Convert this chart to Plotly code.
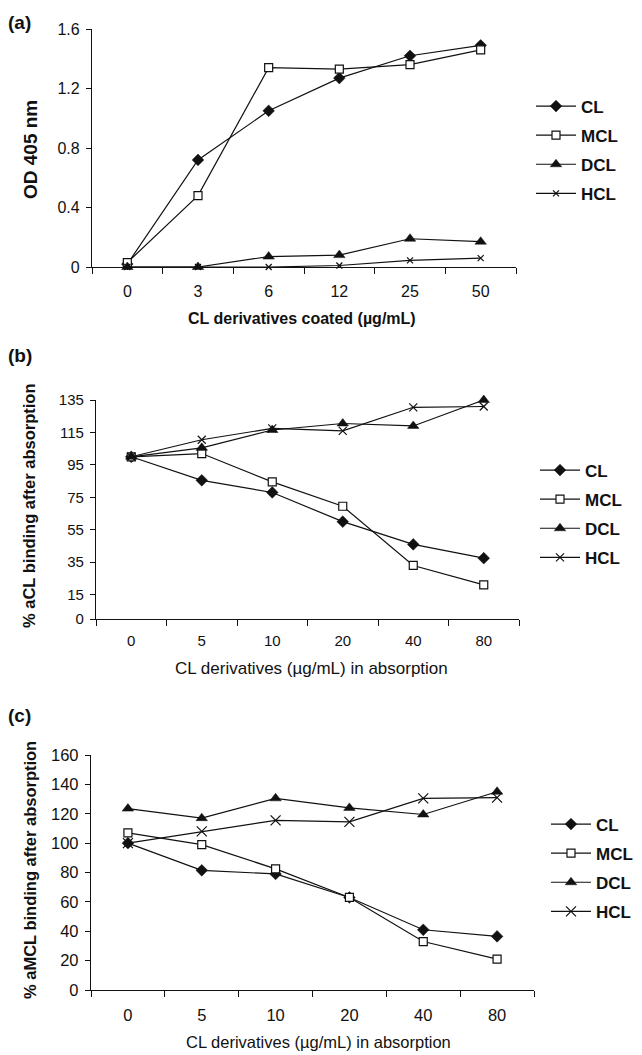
import plotly.graph_objects as go

# ---------------- data ----------------
series_names = ["CL", "MCL", "DCL", "HCL"]

a_categories = ["0", "3", "6", "12", "25", "50"]
a_CL = [0.02, 0.72, 1.05, 1.27, 1.42, 1.49]
a_MCL = [0.03, 0.48, 1.34, 1.33, 1.36, 1.46]
a_DCL = [0.0, 0.0, 0.07, 0.08, 0.19, 0.17]
a_HCL = [0.0, 0.0, 0.0, 0.01, 0.045, 0.06]
a_yticks = [0, 0.4, 0.8, 1.2, 1.6]
a_yticklabels = ["0", "0.4", "0.8", "1.2", "1.6"]

b_categories = ["0", "5", "10", "20", "40", "80"]
b_CL = [100, 85.5, 78, 60, 46, 37.5]
b_MCL = [100, 102, 84.5, 69.5, 33, 21]
b_DCL = [100, 105.5, 116.5, 120.5, 119, 135]
b_HCL = [100, 110.5, 117.5, 116, 130.5, 131]
b_yticks = [0, 15, 35, 55, 75, 95, 115, 135]

c_categories = ["0", "5", "10", "20", "40", "80"]
c_CL = [100, 81.5, 79, 63, 41, 36.5]
c_MCL = [107, 99, 82.5, 63, 33, 21]
c_DCL = [123.5, 117, 130.5, 124, 119.5, 135]
c_HCL = [100, 108, 115.5, 114.5, 130.5, 131]
c_yticks = [0, 20, 40, 60, 80, 100, 120, 140, 160]

# ---------------- layout helpers ----------------
PAGE_W, PAGE_H = 642, 1055
OFF = 8  # default page margin of the browser
W, H = PAGE_W - OFF, PAGE_H - OFF
FONT = "Liberation Sans, Arial, sans-serif"
INK = "#111111"


def fx(p):
    return (p - OFF) / W


def fy(p):
    return 1 - (p - OFF) / H


fig = go.Figure()

panels = [
    dict(cats=a_categories, data=[a_CL, a_MCL, a_DCL, a_HCL], xs="x", ys="y", leg="legend",
         xsize=6),
    dict(cats=b_categories, data=[b_CL, b_MCL, b_DCL, b_HCL], xs="x2", ys="y2", leg="legend2",
         xsize=8),
    dict(cats=c_categories, data=[c_CL, c_MCL, c_DCL, c_HCL], xs="x3", ys="y3", leg="legend3",
         xsize=10),
]

for pi, p in enumerate(panels):
    styles = [
        dict(symbol="diamond", size=9, color=INK, line=dict(color=INK, width=0.5)),
        dict(symbol="square", size=8, color="white", line=dict(color=INK, width=1.2)),
        dict(symbol="triangle-up", size=10, color=INK, line=dict(color=INK, width=0.5)),
        dict(symbol="x-thin", size=p["xsize"], color=INK, line=dict(color=INK, width=1.2)),
    ]
    for name, vals, st in zip(series_names, p["data"], styles):
        fig.add_trace(go.Scatter(
            x=p["cats"], y=vals, name=name, mode="lines+markers",
            line=dict(color=INK, width=1.2), marker=st,
            xaxis=p["xs"], yaxis=p["ys"], legend=p["leg"],
            legendgroup=f"{p['leg']}_{name}", cliponaxis=False,
        ))

# plot areas (pixel boxes in the page)
boxes = {
    "a": (92, 516, 29, 267),
    "b": (96, 519, 400, 619),
    "c": (91, 534, 755, 990),
}


def xaxis_cfg(box, cats, anchor, size, standoff):
    x0, x1, y0, y1 = box
    return dict(domain=[fx(x0), fx(x1)], anchor=anchor, type="category",
                categoryorder="array", categoryarray=cats,
                showline=True, linecolor=INK, linewidth=1.3,
                ticks="outside", tickson="boundaries", ticklen=6, tickwidth=1.3,
                tickcolor=INK, showgrid=False, zeroline=False,
                range=[-0.5, len(cats) - 0.5],
                tickfont=dict(family=FONT, size=size, color=INK),
                ticklabelstandoff=standoff, fixedrange=True)


def yaxis_cfg(box, anchor, rng, tv, tt, size):
    x0, x1, y0, y1 = box
    return dict(domain=[fy(y1), fy(y0)], anchor=anchor, range=rng,
                showline=True, linecolor=INK, linewidth=1.3,
                ticks="outside", ticklen=5, tickwidth=1.3, tickcolor=INK,
                tickvals=tv, ticktext=tt, showgrid=False, zeroline=False,
                tickfont=dict(family=FONT, size=size, color=INK),
                ticklabelstandoff=3, fixedrange=True)


def legend_cfg(line_start, center_y, size):
    return dict(x=fx(line_start - 6), xanchor="left", y=fy(center_y), yanchor="middle",
                font=dict(family=FONT, size=size, color=INK, weight="bold"),
                traceorder="grouped", tracegroupgap=4, bgcolor="rgba(0,0,0,0)",
                itemwidth=40)


fig.update_layout(
    width=W, height=H, margin=dict(l=0, r=0, t=0, b=0, autoexpand=False),
    paper_bgcolor="white", plot_bgcolor="white",
    xaxis=xaxis_cfg(boxes["a"], a_categories, "y", 16, 10),
    yaxis=yaxis_cfg(boxes["a"], "x", [0, 1.6], a_yticks, a_yticklabels, 16),
    xaxis2=xaxis_cfg(boxes["b"], b_categories, "y2", 15, 8),
    yaxis2=yaxis_cfg(boxes["b"], "x2", [0, 135], b_yticks, [str(v) for v in b_yticks], 15),
    xaxis3=xaxis_cfg(boxes["c"], c_categories, "y3", 16.5, 10),
    yaxis3=yaxis_cfg(boxes["c"], "x3", [0, 160], c_yticks, [str(v) for v in c_yticks], 16.5),
    legend=legend_cfg(537, 150, 17),
    legend2=legend_cfg(541, 514, 17),
    legend3=legend_cfg(552, 868, 17),
    showlegend=True,
)

ann = []


def add_text(text, x, y, size, bold=False, angle=0, xanchor="center"):
    ann.append(dict(text=f"<b>{text}</b>" if bold else text, x=fx(x), y=fy(y),
                    xref="paper", yref="paper", showarrow=False, textangle=angle,
                    xanchor=xanchor, yanchor="middle",
                    font=dict(family=FONT, size=size, color=INK)))


add_text("(a)", 6, 23, 19, bold=True, xanchor="left")
add_text("(b)", 6, 355, 19, bold=True, xanchor="left")
add_text("(c)", 6, 715, 19, bold=True, xanchor="left")

add_text("OD 405 nm", 30, 150, 19, bold=True, angle=-90)
add_text("% aCL binding after absorption", 29, 506, 16.5, bold=True, angle=-90)
add_text("% aMCL binding after absorption", 30, 870, 16.5, bold=True, angle=-90)

add_text("CL derivatives coated (µg/mL)", 302, 318, 16, bold=True)
add_text("CL derivatives (µg/mL) in absorption", 311, 668, 17)
add_text("CL derivatives (µg/mL) in absorption", 318, 1042, 16.5)

fig.update_layout(annotations=ann)

fig.write_html("out.html")
